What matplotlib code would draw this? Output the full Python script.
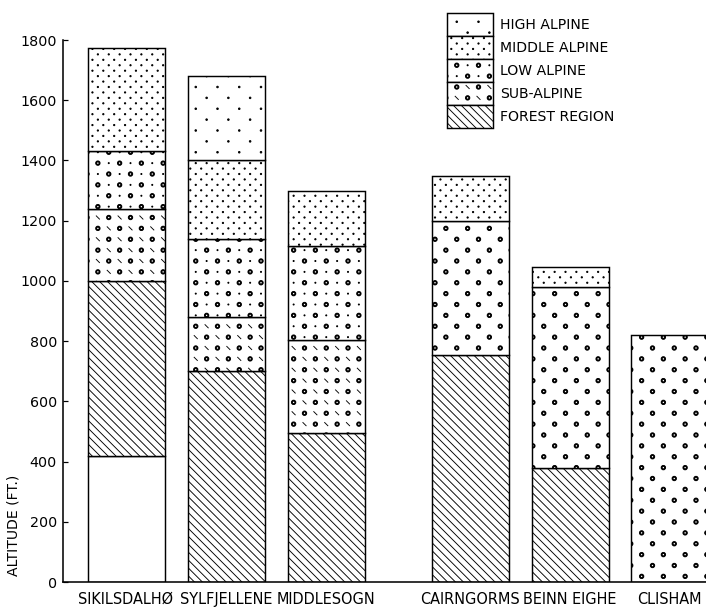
import numpy as np
import matplotlib
matplotlib.use("Agg")
import matplotlib.pyplot as plt
import matplotlib.hatch as mhatch
from matplotlib.path import Path
from matplotlib.patches import Patch

# ---------------- data ----------------
mountains = ["SIKILSDALHØ", "SYLFJELLENE", "MIDDLESOGN", "CAIRNGORMS", "BEINN EIGHE", "CLISHAM"]
# thickness (ft) of each altitudinal zone, stacked from the ground upwards
unshaded = [420, 0, 0, 0, 0, 0]
forest_region = [580, 700, 495, 755, 380, 0]
sub_alpine = [240, 180, 310, 0, 0, 0]
low_alpine = [190, 260, 310, 445, 600, 820]
middle_alpine = [345, 260, 185, 150, 65, 0]
high_alpine = [0, 280, 0, 0, 0, 0]
zone_labels = ["HIGH ALPINE", "MIDDLE ALPINE", "LOW ALPINE", "SUB-ALPINE", "FOREST REGION"]
y_ticks = [0, 200, 400, 600, 800, 1000, 1200, 1400, 1600, 1800]

# ---------------- layout / style ----------------
DPI = 87
positions = [0.0, 1.0, 2.0, 3.44, 4.44, 5.43]
bar_width = 0.77

# --- custom hatch patterns (tile = 1 inch = DPI px) ---
def _grid(n, comp):
    d = 1.0 / n
    pts = []
    for r in range(2 * n + 1):
        off = d / 2 if (r + comp) % 2 else 0.0
        for x in np.arange(off, 1.0 + 1e-9, d):
            pts.append((x, r * d / 2))
    return np.array(pts)

_uc = Path.unit_circle()

def _ring(rad_px):
    r = rad_px / DPI
    v = np.concatenate([_uc.vertices * r, _uc.vertices[::-1] * r * 0.55])
    c = np.concatenate([_uc.codes, _uc.codes])
    return v, c

def _dot(rad_px):
    r = rad_px / DPI
    return _uc.vertices * r, _uc.codes.copy()

def _stroke(a_px):
    a = a_px / DPI
    return np.array([[-a, a], [a, -a]]), np.array([Path.MOVETO, Path.LINETO], dtype=Path.code_type)

class _GridHatch(mhatch.HatchPatternBase):
    char = ""
    n = 4
    comp = 0
    shape = None

    def __init__(self, hatch, density):
        if self.char and self.char in hatch:
            self.pts = _grid(self.n, self.comp)
            self.sv, self.sc = self.shape
            self.num_vertices = len(self.pts) * len(self.sv)
        else:
            self.num_vertices = 0

    def set_vertices_and_codes(self, vertices, codes):
        vertices[:] = (self.pts[:, None, :] + self.sv[None, :, :]).reshape(-1, 2)
        codes[:] = np.tile(self.sc, len(self.pts))

def _make(char, n, comp, shape):
    return type("H%d" % ord(char), (_GridHatch,), dict(char=char, n=n, comp=comp, shape=shape))

class _ForestLines(mhatch.HatchPatternBase):
    def __init__(self, hatch, density):
        self.m = 11 * hatch.count("\\")
        self.num_vertices = (2 * self.m + 1) * 2 if self.m else 0

    def set_vertices_and_codes(self, vertices, codes):
        cs = np.linspace(0, 2, 2 * self.m + 1)
        vertices[0::2, 0] = -1.0
        vertices[0::2, 1] = cs + 1.0
        vertices[1::2, 0] = cs + 1.0
        vertices[1::2, 1] = -1.0
        codes[0::2] = Path.MOVETO
        codes[1::2] = Path.LINETO

mhatch._hatch_types = [
    _ForestLines,
    _make("o", 4, 0, _ring(2.2)),     # open circles
    _make(".", 4, 1, _dot(0.55)),     # small dots between circles
    _make("|", 4, 1, _stroke(1.6)),   # short oblique strokes between circles
    _make("+", 8, 0, _dot(0.65)),     # dense fine dots
    _make("*", 4, 0, _dot(0.8)),      # sparse fine dots
]

plt.rcParams["hatch.linewidth"] = 0.75
plt.rcParams["font.family"] = ["DejaVu Sans"]

hatch_high = "*"
hatch_middle = "+"
hatch_low = ["o.", "o.", "o.", "o", "o", "o"]
hatch_sub = "o|"
hatch_forest = "\\"

fig = plt.figure(figsize=(706 / DPI, 609 / DPI), dpi=DPI)
ax = fig.add_axes([63 / 706, 1 - 582 / 609, 1 - 63 / 706, (582 - 40) / 609])

zones = [
    (unshaded, [""] * 6),
    (forest_region, [hatch_forest] * 6),
    (sub_alpine, [hatch_sub] * 6),
    (low_alpine, hatch_low),
    (middle_alpine, [hatch_middle] * 6),
    (high_alpine, [hatch_high] * 6),
]
bottom = np.zeros(len(mountains))
for vals, hatches in zones:
    vals = np.asarray(vals, dtype=float)
    bars = ax.bar(positions, vals, bottom=bottom, width=bar_width,
                  color="white", edgecolor="black", linewidth=1.2, zorder=2)
    for b, h, v in zip(bars, hatches, vals):
        if v <= 0:
            b.set_visible(False)
        elif h:
            b.set_hatch(h)
    bottom += vals

ax.set_xlim(-0.63, 5.80)
ax.set_ylim(0, 1800)
ax.set_yticks(y_ticks)
ax.set_xticks(positions)
ax.set_xticklabels(mountains, fontsize=12)
ax.tick_params(axis="x", length=0, pad=8)
ax.tick_params(axis="y", direction="in", length=4.5, width=1.0, pad=5, labelsize=11.8)
for s in ["top", "right"]:
    ax.spines[s].set_visible(False)
for s in ["left", "bottom"]:
    ax.spines[s].set_linewidth(1.3)
ax.set_ylabel("ALTITUDE (FT.)", fontsize=11.6)
ax.yaxis.set_label_coords(-0.066, 0.105)

handles = [Patch(facecolor="white", edgecolor="black", linewidth=1.2, hatch=h, label=l)
           for h, l in zip([hatch_high, hatch_middle, "o.", hatch_sub, hatch_forest], zone_labels)]
fs = 11.6
fpx = fs * DPI / 72
row_px = 23.0
hh = (row_px / fpx - 0.245) / 0.65
fig.legend(handles=handles, loc="upper left", bbox_to_anchor=(447 / 706, 1 - 13 / 609),
           bbox_transform=fig.transFigure, frameon=False, fontsize=fs,
           handlelength=46 / fpx, handleheight=hh, handletextpad=7 / fpx,
           labelspacing=0, borderpad=0, borderaxespad=0)

fig.savefig("out.png", dpi=DPI)
